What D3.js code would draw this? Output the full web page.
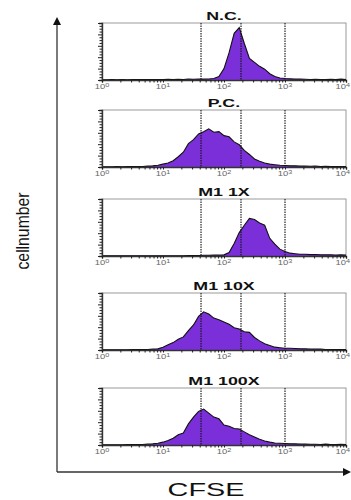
<!DOCTYPE html>
<html>
<head>
<meta charset="utf-8">
<script src="https://cdnjs.cloudflare.com/ajax/libs/d3/7.8.5/d3.min.js"></script>
<style>
  body { margin: 0; background: #fff; }
  svg { display: block; }
  text { font-family: "Liberation Sans", Arial, sans-serif; }
</style>
</head>
<body>
<script>
// Panel names (samples)
var panels = ["N.C.", "P.C.", "M1 1X", "M1 10X", "M1 100X"];

// Histogram bin centres, as log10(CFSE), 12 per decade from 10^0 to 10^4
var binLogs = d3.range(0, 49).map(function(i) { return i / 12; });

// Relative cell counts per bin (% of the panel height)
var countsNC = [0.5,0.5,0.8,0.5,0.8,0.5,0.8,1,0.8,1,1,1,
  1,1.2,1,1.2,1,1.5,1.2,1.5,1.5,1.8,2.5,6,
  20,48,82,92,64,38,31,24,19,11,6,3.5,
  2.5,2,1.5,1.5,1.2,1,1.2,1,1,1.2,1,1.5,1];
var countsPC = [0.5,0.5,0.5,0.8,0.5,0.8,0.8,1,1,1.5,2,3,
  5,7,11,18,26,41,48,58,62,67,61,62,
  55,53,44,39,29,22,14,10,7,5,4,3,
  2.5,2,2,1.5,1.5,1.2,1.5,1,1.2,1,1,1,0.8];
var counts1X = [0.3,0.3,0.3,0.3,0.3,0.3,0.3,0.3,0.3,0.3,0.3,0.3,
  0.3,0.3,0.5,0.5,0.5,0.8,0.8,1,1.2,1.2,1.5,1.5,
  2,6,22,41,54,66,64,58,54,31,21,12,
  8,5,4,3,3,2.5,2.5,2,2,2,1.5,2,1.5];
var counts10X = [0.3,0.3,0.3,0.5,0.5,0.5,0.8,0.8,1,1,1.5,2,
  5,9,13,19,23,34,44,59,67,63,56,53,
  49,45,39,37,32,31,22,16,11,8,5,4,
  3,3,2.5,2,2,1.5,1.5,1.5,1,1,1,1,0.8];
var counts100X = [0.3,0.3,0.3,0.5,0.5,0.8,0.8,1,1,1.5,2,3,
  5,8,12,18,21,37,49,59,63,56,49,46,
  35,33,29,28,23,18,14,10,7,5,3.5,3,
  2.5,2,2,1.5,1.5,1.2,1.2,1,1.5,1,1,1.2,1];
var seriesCounts = [countsNC, countsPC, counts1X, counts10X, counts100X];

// Gate markers (dotted lines), CFSE values
var gates = [42, 190, 1000];

// Decade tick labels (exponents of 10)
var decades = [0, 1, 2, 3, 4];

// Layout
var width = 351, height = 500;
var panelTop = [23, 110, 199, 293, 388];
var boxH = 57;
var purple = "#7b2fd8";

var svg = d3.select("body").append("svg")
  .attr("width", width)
  .attr("height", height);

var x = d3.scaleLog().domain([1, 1e4]).range([102, 346]);

// Big outer axes with arrows
svg.append("line")
  .attr("x1", 57).attr("y1", 24).attr("x2", 57).attr("y2", 472)
  .attr("stroke", "#333").attr("stroke-width", 1.3);
svg.append("path")
  .attr("d", "M57,17 L53,25 L61,25 Z").attr("fill", "#111");
svg.append("line")
  .attr("x1", 57).attr("y1", 472).attr("x2", 344).attr("y2", 472)
  .attr("stroke", "#333").attr("stroke-width", 1.3);
svg.append("path")
  .attr("d", "M351,472 L343,468 L343,476 Z").attr("fill", "#111");

// Axis titles
svg.append("text")
  .attr("transform", "translate(29,231) rotate(-90)")
  .attr("text-anchor", "middle")
  .attr("font-size", 18)
  .attr("textLength", 77)
  .attr("lengthAdjust", "spacingAndGlyphs")
  .attr("fill", "#111")
  .text("cellnumber");

svg.append("text")
  .attr("transform", "translate(206,496) scale(1.6,1)")
  .attr("text-anchor", "middle")
  .attr("font-size", 18)
  .attr("fill", "#111")
  .text("CFSE");

panels.forEach(function(name, k) {
  var top = panelTop[k];
  var bottom = top + boxH;
  var y = d3.scaleLinear().domain([0, 100]).range([bottom, top]);
  var g = svg.append("g").attr("class", "panel");

  var data = binLogs.map(function(l, i) {
    return { v: Math.pow(10, l), c: seriesCounts[k][i] };
  });

  // frame
  g.append("rect")
    .attr("x", x.range()[0]).attr("y", top)
    .attr("width", x.range()[1] - x.range()[0]).attr("height", boxH)
    .attr("fill", "none").attr("stroke", "#999").attr("stroke-width", 1);

  // histogram
  var area = d3.area()
    .x(function(d) { return x(d.v); })
    .y0(bottom)
    .y1(function(d) { return y(d.c); });
  var line = d3.line()
    .x(function(d) { return x(d.v); })
    .y(function(d) { return y(d.c); });
  g.append("path").datum(data)
    .attr("d", area).attr("fill", purple);
  g.append("path").datum(data)
    .attr("d", line).attr("fill", "none")
    .attr("stroke", "#111").attr("stroke-width", 1.1);

  // gates
  g.selectAll(".gate").data(gates).enter().append("line")
    .attr("class", "gate")
    .attr("x1", function(d) { return x(d); })
    .attr("x2", function(d) { return x(d); })
    .attr("y1", top).attr("y2", bottom)
    .attr("stroke", "#111").attr("stroke-width", 1.1)
    .attr("stroke-dasharray", "1.5,1");

  // left minor ticks
  g.append("g")
    .attr("transform", "translate(" + x.range()[0] + ",0)")
    .call(d3.axisLeft(y).ticks(20).tickSize(3).tickFormat(""))
    .call(function(a) {
      a.select(".domain").attr("stroke", "#333").attr("stroke-width", 1.4);
      a.selectAll(".tick line").attr("stroke", "#222").attr("stroke-width", 1)
        .attr("x2", function(d) { return d % 20 === 0 ? -4 : -2.5; });
    });

  // bottom log axis
  g.append("g")
    .attr("transform", "translate(0," + bottom + ")")
    .call(d3.axisBottom(x).ticks(40).tickSize(2.5).tickFormat(""))
    .call(function(a) {
      a.select(".domain").attr("stroke", "#333").attr("stroke-width", 1.4);
      a.selectAll(".tick line").attr("stroke", "#222");
    });

  // decade labels
  decades.forEach(function(p, j) {
    var last = j === decades.length - 1;
    var t = g.append("text")
      .attr("transform", "translate(" + (last ? width - 1 : x(Math.pow(10, p))) + "," + (bottom + 9) + ") scale(1.45,1)")
      .attr("text-anchor", last ? "end" : "middle")
      .attr("font-size", 6.5)
      .attr("fill", "#666");
    t.append("tspan").text("10");
    t.append("tspan").attr("dy", -2.5).attr("font-size", 5).text(p);
  });

  // title
  g.append("text")
    .attr("transform", "translate(" + x(100) + "," + (top - 3) + ") scale(1.55,1)")
    .attr("text-anchor", "middle")
    .attr("font-size", 11.5)
    .attr("font-weight", "bold")
    .attr("fill", "#111")
    .text(name);
});
</script>
</body>
</html>
